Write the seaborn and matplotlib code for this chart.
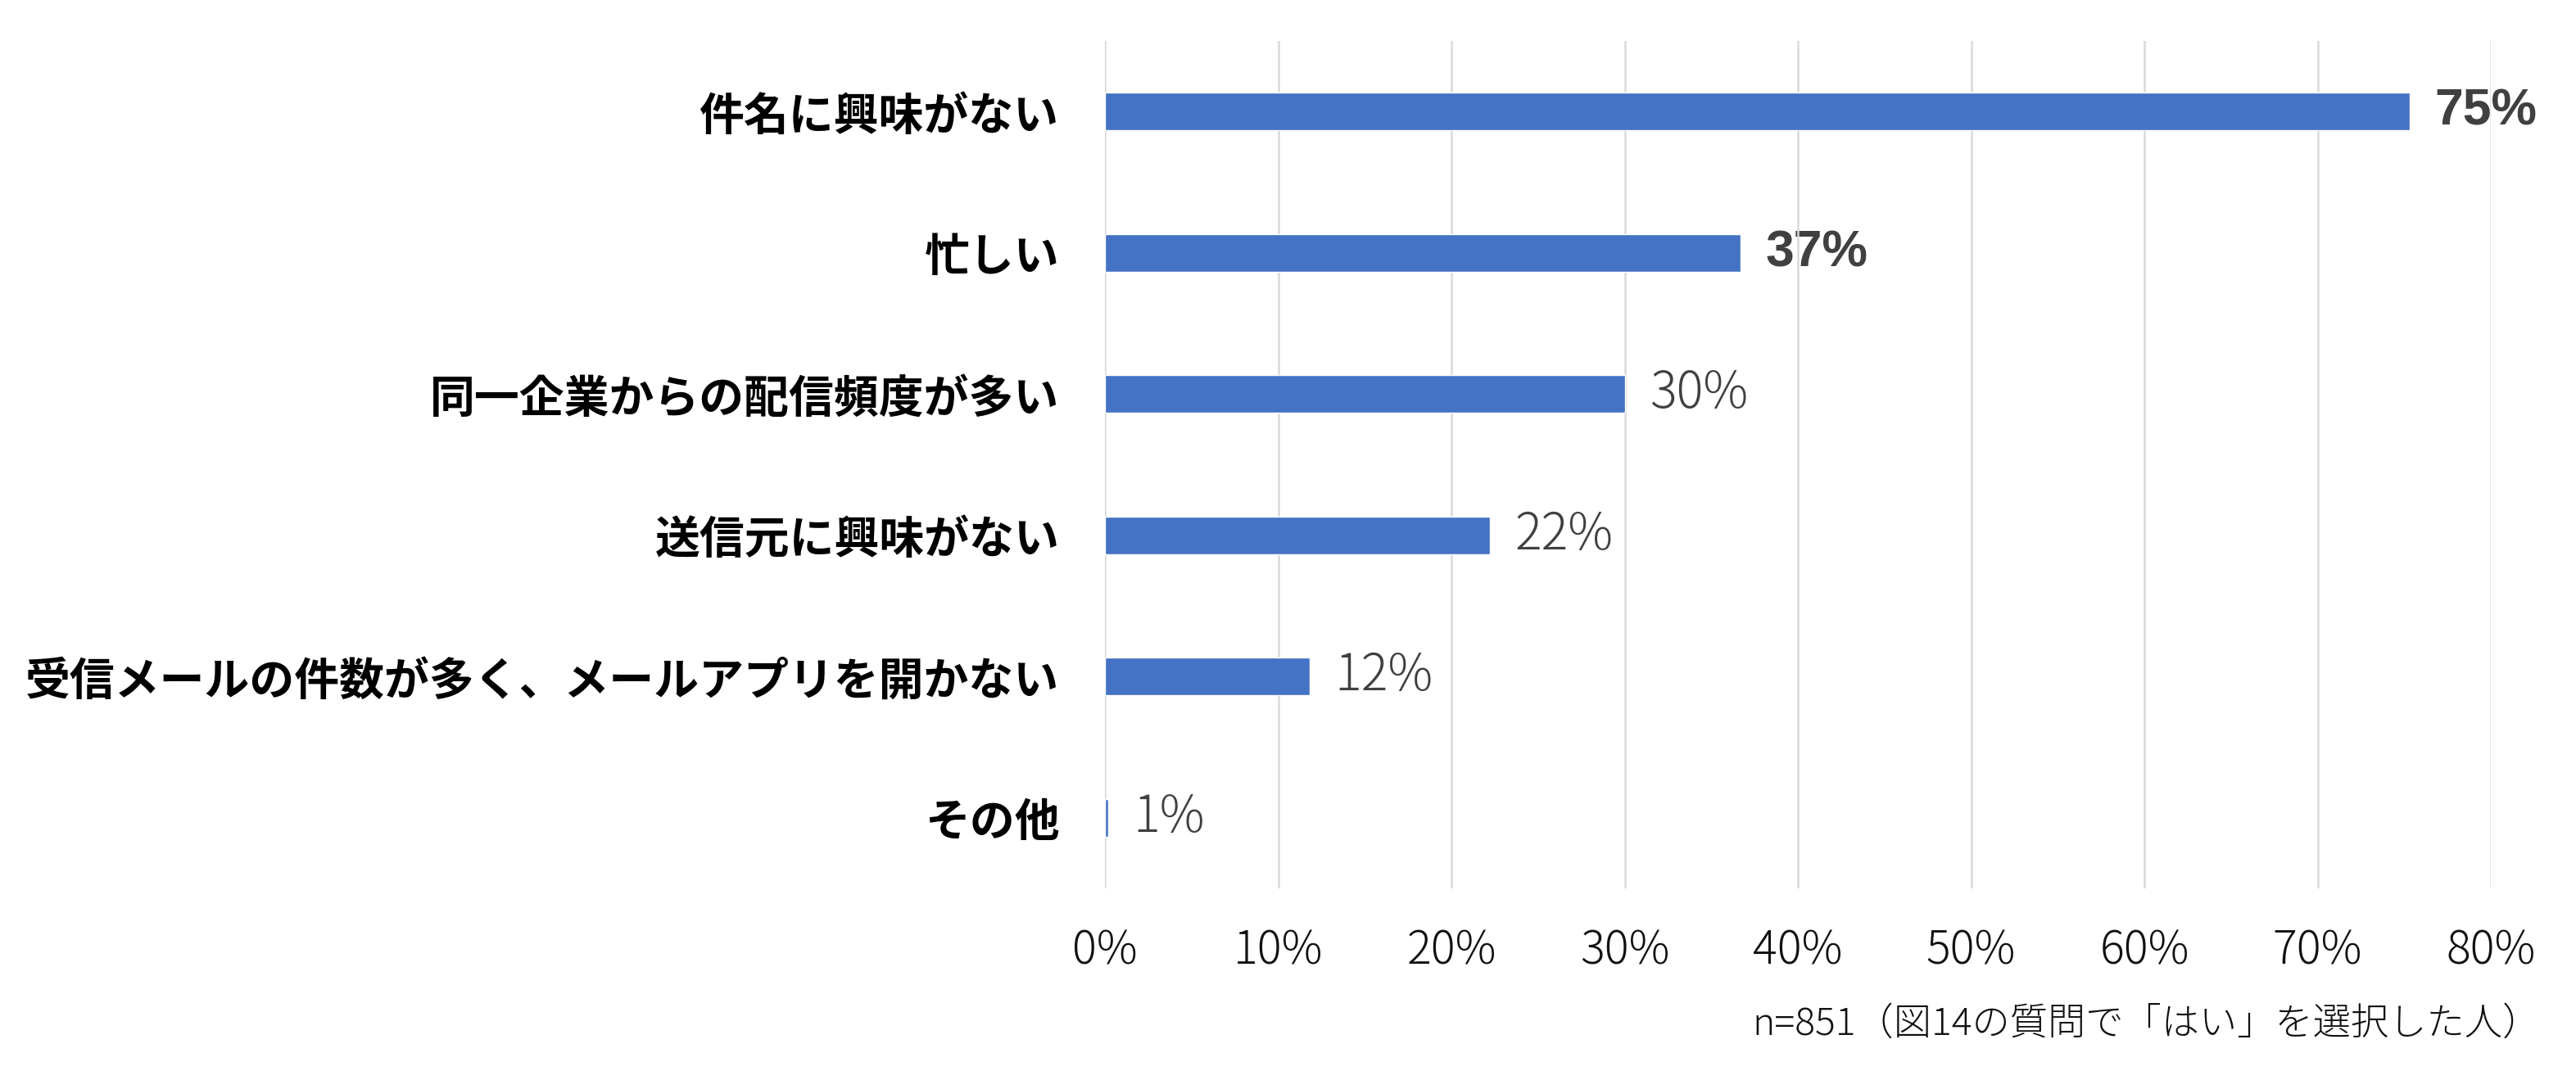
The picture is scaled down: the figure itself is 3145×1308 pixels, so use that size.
import numpy as np
import pandas as pd
import matplotlib
matplotlib.use("Agg")
import matplotlib.pyplot as plt
import seaborn as sns

# ---- data ----
categories = [
    "件名に興味がない",
    "忙しい",
    "同一企業からの配信頻度が多い",
    "送信元に興味がない",
    "受信メールの件数が多く、メールアプリを開かない",
    "その他",
]
values = [75.3, 36.7, 30.0, 22.2, 11.8, 0.2]
value_labels = ["75%", "37%", "30%", "22%", "12%", "1%"]
x_ticks = [0, 10, 20, 30, 40, 50, 60, 70, 80]
x_tick_labels = ["0%", "10%", "20%", "30%", "40%", "50%", "60%", "70%", "80%"]
footnote = "n=851（図14の質問で「はい」を選択した人）"

df = pd.DataFrame({"category": categories, "value": values})

sns.set_theme(style="white")
plt.rcParams["font.family"] = ["Noto Sans CJK JP", "DejaVu Sans"]

W, H = 3145, 1308
fig = plt.figure(figsize=(W / 100, H / 100), dpi=100)
ax = fig.add_axes([1349 / W, 1 - 1085 / H, (3041 - 1349) / W, (1085 - 50) / H])

sns.barplot(data=df, x="value", y="category", orient="h", color="#4472C4",
            saturation=1, width=0.267, ax=ax, zorder=2)

ax.set_xlim(0, 80)
ax.set_ylim(5.5, -0.5)
ax.set_xlabel("")
ax.set_ylabel("")
ax.set_xticks(x_ticks)
ax.set_xticklabels(x_tick_labels, fontsize=40, fontweight="light", color="#111111")
ax.set_yticks(range(len(categories)))
ax.set_yticklabels(categories, fontsize=39.5, fontweight="bold", color="#000000")
ax.tick_params(axis="x", length=0, pad=34)
ax.tick_params(axis="y", length=0, pad=40)
for s in ax.spines.values():
    s.set_visible(False)

ax.set_axisbelow(True)
ax.xaxis.grid(True, color="#D9D9D9", linewidth=1.8)
ax.yaxis.grid(False)

for i, (v, lab) in enumerate(zip(values, value_labels)):
    if i < 2:
        ax.annotate(lab, xy=(v, i), xytext=(22, 0), textcoords="offset points",
                    ha="left", va="center", fontsize=45, fontweight="bold",
                    color="#404040", family=["Liberation Sans", "DejaVu Sans"],
                    zorder=0.3, annotation_clip=False)
    else:
        ax.annotate(lab, xy=(v, i), xytext=(22, 0), textcoords="offset points",
                    ha="left", va="center", fontsize=44, fontweight="light",
                    color="#404040", zorder=0.3, annotation_clip=False)

fig.text(3102 / W, 1 - 1251 / H, footnote, ha="right", va="center",
         fontsize=33.3, fontweight="light", color="#111111")

fig.savefig("out.png", dpi=100, facecolor="white")
